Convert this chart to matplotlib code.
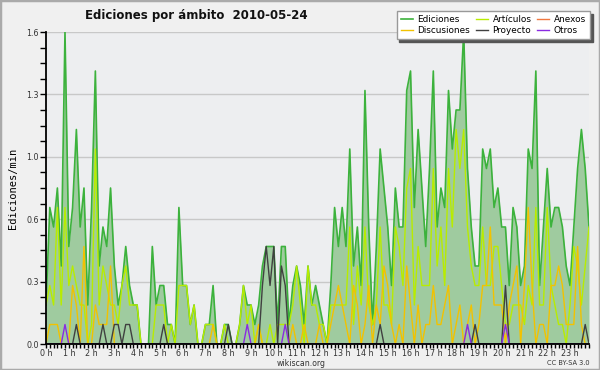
import numpy as np
import matplotlib
matplotlib.use("Agg")
import matplotlib.pyplot as plt
from matplotlib.patches import Rectangle

title = "Ediciones por ámbito  2010-05-24"
ylabel = "Ediciones/min"
series_names = ["Ediciones", "Discusiones", "Artículos", "Proyecto", "Anexos", "Otros"]
hour_labels = ["%d h" % h for h in range(24)]
ytick_labels = ["0.0", "0.3", "0.6", "1.0", "1.3", "1.6"]

# one value every 10 minutes (144 slots), edits per minute
ediciones = [
    0.2, 0.7, 0.6, 0.8, 0.4, 1.6, 0.5, 0.7, 1.1, 0.6, 0.8, 0.2,
    0.7, 1.4, 0.4, 0.6, 0.5, 0.8, 0.4, 0.2, 0.3, 0.5, 0.3, 0.2,
    0.2, 0.0, 0.0, 0.0, 0.5, 0.2, 0.3, 0.3, 0.1, 0.1, 0.0, 0.7,
    0.3, 0.3, 0.1, 0.2, 0.0, 0.0, 0.1, 0.1, 0.3, 0.0, 0.0, 0.1,
    0.1, 0.0, 0.0, 0.1, 0.3, 0.2, 0.2, 0.1, 0.2, 0.4, 0.5, 0.5,
    0.5, 0.1, 0.5, 0.5, 0.1, 0.3, 0.4, 0.3, 0.1, 0.4, 0.2, 0.3,
    0.2, 0.1, 0.0, 0.3, 0.7, 0.5, 0.7, 0.5, 1.0, 0.4, 0.6, 0.3,
    1.3, 0.6, 0.1, 0.5, 1.0, 0.8, 0.6, 0.3, 0.8, 0.6, 0.6, 1.3,
    1.4, 0.7, 1.1, 0.8, 0.5, 0.9, 1.4, 0.6, 0.8, 0.7, 1.3, 1.0,
    1.2, 1.2, 1.6, 0.9, 0.6, 0.4, 0.4, 1.0, 0.9, 1.0, 0.7, 0.8,
    0.6, 0.6, 0.3, 0.7, 0.6, 0.3, 0.4, 1.0, 0.9, 1.4, 0.3, 0.6,
    0.9, 0.6, 0.7, 0.7, 0.6, 0.4, 0.3, 0.6, 0.9, 1.1, 0.9, 0.6,
]
articulos = [
    0.2, 0.3, 0.2, 0.7, 0.2, 0.7, 0.3, 0.4, 0.3, 0.2, 0.2, 0.0,
    0.1, 1.0, 0.2, 0.4, 0.3, 0.2, 0.2, 0.1, 0.3, 0.4, 0.2, 0.2,
    0.2, 0.0, 0.0, 0.0, 0.0, 0.2, 0.2, 0.2, 0.0, 0.1, 0.0, 0.3,
    0.3, 0.3, 0.1, 0.2, 0.0, 0.0, 0.1, 0.1, 0.1, 0.0, 0.0, 0.1,
    0.0, 0.0, 0.0, 0.1, 0.3, 0.1, 0.2, 0.0, 0.1, 0.0, 0.0, 0.1,
    0.0, 0.1, 0.1, 0.1, 0.1, 0.2, 0.4, 0.2, 0.0, 0.4, 0.2, 0.2,
    0.1, 0.1, 0.0, 0.2, 0.2, 0.2, 0.2, 0.2, 0.6, 0.1, 0.4, 0.2,
    0.6, 0.2, 0.1, 0.2, 0.6, 0.2, 0.2, 0.1, 0.6, 0.5, 0.3, 0.8,
    0.9, 0.2, 0.5, 0.3, 0.3, 0.3, 0.9, 0.4, 0.6, 0.3, 0.9, 0.6,
    1.1, 0.9, 1.1, 0.6, 0.4, 0.3, 0.3, 0.6, 0.3, 0.3, 0.5, 0.5,
    0.3, 0.1, 0.1, 0.2, 0.2, 0.2, 0.1, 0.3, 0.2, 0.7, 0.2, 0.2,
    0.7, 0.3, 0.2, 0.1, 0.1, 0.0, 0.2, 0.5, 0.4, 0.2, 0.4, 0.6,
]
discusiones = [
    0.0, 0.1, 0.1, 0.1, 0.0, 0.0, 0.0, 0.3, 0.2, 0.0, 0.5, 0.0,
    0.0, 0.2, 0.1, 0.1, 0.1, 0.4, 0.0, 0.0, 0.0, 0.0, 0.0, 0.0,
    0.0, 0.0, 0.0, 0.0, 0.0, 0.0, 0.0, 0.0, 0.0, 0.0, 0.0, 0.0,
    0.0, 0.0, 0.0, 0.0, 0.0, 0.0, 0.0, 0.0, 0.1, 0.0, 0.0, 0.0,
    0.0, 0.0, 0.0, 0.0, 0.0, 0.0, 0.0, 0.0, 0.1, 0.0, 0.0, 0.0,
    0.0, 0.0, 0.0, 0.0, 0.0, 0.1, 0.0, 0.0, 0.1, 0.0, 0.0, 0.0,
    0.1, 0.0, 0.0, 0.1, 0.2, 0.3, 0.2, 0.1, 0.0, 0.3, 0.2, 0.0,
    0.1, 0.3, 0.0, 0.2, 0.1, 0.4, 0.3, 0.1, 0.0, 0.1, 0.0, 0.4,
    0.2, 0.0, 0.2, 0.0, 0.1, 0.1, 0.3, 0.1, 0.1, 0.2, 0.3, 0.0,
    0.1, 0.2, 0.0, 0.1, 0.2, 0.0, 0.1, 0.3, 0.3, 0.6, 0.2, 0.2,
    0.2, 0.0, 0.2, 0.3, 0.4, 0.0, 0.3, 0.7, 0.3, 0.0, 0.1, 0.1,
    0.0, 0.3, 0.3, 0.4, 0.3, 0.1, 0.1, 0.1, 0.5, 0.1, 0.0, 0.0,
]
anexos = [
    0.0, 0.0, 0.0, 0.0, 0.0, 0.0, 0.0, 0.0, 0.0, 0.0, 0.0, 0.0,
    0.0, 0.0, 0.0, 0.0, 0.0, 0.0, 0.0, 0.0, 0.0, 0.0, 0.0, 0.0,
    0.0, 0.0, 0.0, 0.0, 0.0, 0.0, 0.0, 0.0, 0.0, 0.0, 0.0, 0.0,
    0.0, 0.0, 0.0, 0.0, 0.0, 0.0, 0.0, 0.0, 0.0, 0.0, 0.0, 0.0,
    0.0, 0.0, 0.0, 0.0, 0.0, 0.0, 0.0, 0.0, 0.0, 0.0, 0.0, 0.0,
    0.0, 0.0, 0.0, 0.0, 0.0, 0.0, 0.0, 0.0, 0.0, 0.0, 0.0, 0.0,
    0.0, 0.0, 0.0, 0.0, 0.0, 0.0, 0.0, 0.0, 0.0, 0.0, 0.0, 0.0,
    0.0, 0.0, 0.0, 0.0, 0.0, 0.0, 0.0, 0.0, 0.0, 0.0, 0.0, 0.0,
    0.0, 0.0, 0.0, 0.0, 0.0, 0.0, 0.0, 0.0, 0.0, 0.0, 0.0, 0.0,
    0.0, 0.0, 0.0, 0.0, 0.0, 0.0, 0.0, 0.0, 0.0, 0.0, 0.0, 0.0,
    0.0, 0.0, 0.0, 0.0, 0.0, 0.0, 0.0, 0.0, 0.0, 0.0, 0.0, 0.0,
    0.0, 0.0, 0.0, 0.0, 0.0, 0.0, 0.0, 0.0, 0.0, 0.0, 0.0, 0.0,
]
proyecto = [
    0.0, 0.0, 0.0, 0.0, 0.0, 0.0, 0.0, 0.0, 0.1, 0.0, 0.0, 0.0,
    0.0, 0.0, 0.0, 0.1, 0.0, 0.0, 0.1, 0.1, 0.0, 0.1, 0.1, 0.0,
    0.0, 0.0, 0.0, 0.0, 0.0, 0.0, 0.0, 0.1, 0.0, 0.0, 0.0, 0.0,
    0.0, 0.0, 0.0, 0.0, 0.0, 0.0, 0.0, 0.0, 0.0, 0.0, 0.0, 0.0,
    0.1, 0.0, 0.0, 0.0, 0.0, 0.0, 0.0, 0.0, 0.0, 0.3, 0.5, 0.3,
    0.5, 0.0, 0.4, 0.3, 0.0, 0.0, 0.0, 0.0, 0.0, 0.0, 0.0, 0.0,
    0.0, 0.0, 0.0, 0.0, 0.0, 0.0, 0.0, 0.0, 0.0, 0.0, 0.0, 0.0,
    0.0, 0.0, 0.0, 0.0, 0.1, 0.0, 0.0, 0.0, 0.0, 0.0, 0.0, 0.0,
    0.0, 0.0, 0.0, 0.0, 0.0, 0.0, 0.0, 0.0, 0.0, 0.0, 0.0, 0.0,
    0.0, 0.0, 0.0, 0.0, 0.0, 0.1, 0.0, 0.0, 0.0, 0.0, 0.0, 0.0,
    0.0, 0.3, 0.0, 0.0, 0.0, 0.0, 0.0, 0.0, 0.0, 0.0, 0.0, 0.0,
    0.0, 0.0, 0.0, 0.0, 0.0, 0.0, 0.0, 0.0, 0.0, 0.0, 0.1, 0.0,
]
otros = [
    0.0, 0.0, 0.0, 0.0, 0.0, 0.1, 0.0, 0.0, 0.0, 0.0, 0.0, 0.0,
    0.0, 0.0, 0.0, 0.0, 0.0, 0.0, 0.0, 0.0, 0.0, 0.0, 0.0, 0.0,
    0.0, 0.0, 0.0, 0.0, 0.0, 0.0, 0.0, 0.0, 0.0, 0.0, 0.0, 0.0,
    0.0, 0.0, 0.0, 0.0, 0.0, 0.0, 0.0, 0.0, 0.0, 0.0, 0.0, 0.0,
    0.0, 0.0, 0.0, 0.0, 0.0, 0.1, 0.0, 0.0, 0.0, 0.0, 0.0, 0.0,
    0.0, 0.0, 0.0, 0.1, 0.0, 0.0, 0.0, 0.0, 0.0, 0.0, 0.0, 0.0,
    0.0, 0.0, 0.0, 0.0, 0.0, 0.0, 0.0, 0.0, 0.0, 0.0, 0.0, 0.0,
    0.0, 0.0, 0.0, 0.0, 0.0, 0.0, 0.0, 0.0, 0.0, 0.0, 0.0, 0.0,
    0.0, 0.0, 0.0, 0.0, 0.0, 0.0, 0.0, 0.0, 0.0, 0.0, 0.0, 0.0,
    0.0, 0.0, 0.0, 0.1, 0.0, 0.0, 0.0, 0.0, 0.0, 0.0, 0.0, 0.0,
    0.0, 0.1, 0.0, 0.0, 0.0, 0.0, 0.0, 0.0, 0.0, 0.0, 0.0, 0.0,
    0.0, 0.0, 0.0, 0.0, 0.0, 0.0, 0.0, 0.0, 0.0, 0.0, 0.0, 0.0,
]

plt.rcParams['font.family'] = ['DejaVu Sans']

hours = np.arange(len(ediciones)) / 6.0

fig = plt.figure(figsize=(6.0, 3.7), dpi=100, facecolor='#f0f0f0')
ax = fig.add_axes([46 / 600, 26 / 370, 543 / 600, 312 / 370])
ax.set_facecolor('#edeef0')

# filled total
ax.fill_between(hours, 0, ediciones, color='#9fcb9f', lw=0, zorder=2)
ax.plot(hours, ediciones, color='#3cb23c', lw=1.2, zorder=3, label='Ediciones')
ax.plot(hours, articulos, color='#b8ec00', lw=1.0, zorder=4, label='Artículos')
ax.plot(hours, discusiones, color='#f2c200', lw=1.0, zorder=5, label='Discusiones')
ax.plot(hours, anexos, color='#f07840', lw=1.0, zorder=3.5, label='Anexos')
ax.plot(hours, proyecto, color='#404040', lw=1.0, zorder=6, label='Proyecto')
ax.plot(hours, otros, color='#8a2be2', lw=1.0, zorder=7, label='Otros')

ax.set_xlim(hours[0], hours[-1])
ax.set_ylim(0, 1.6)

ax.set_yticks(np.linspace(0, 1.6, len(ytick_labels)))
ax.set_yticklabels(ytick_labels)
ax.set_yticks(np.linspace(0, 1.6, 21), minor=True)
ax.set_xticks(np.arange(24))
ax.set_xticklabels(hour_labels)
ax.set_xticks(np.arange(0, 24, 1 / 6.0), minor=True)

ax.tick_params(axis='both', which='both', direction='out', colors='black',
               labelcolor='#333333', labelsize=5.8, width=1)
ax.tick_params(axis='y', which='major', length=4, pad=1)
ax.tick_params(axis='y', which='minor', length=4)
ax.tick_params(axis='x', which='major', length=3, pad=0.5)
ax.tick_params(axis='x', which='minor', length=3)

ax.grid(axis='y', which='major', color='#c8c8c8', lw=1, zorder=1)
ax.set_axisbelow(True)
for s in ['top', 'right']:
    ax.spines[s].set_visible(False)
for s in ['left', 'bottom']:
    ax.spines[s].set_linewidth(1.3)
    ax.spines[s].set_zorder(8)

ax.set_ylabel(ylabel, fontsize=7.5, family='DejaVu Sans Mono', labelpad=6)

fig.text(85 / 600, 1 - 16 / 370, title, ha='left', va='center',
         fontsize=8.5, fontweight='bold', color='#111111')
fig.text(301 / 600, 1 - 363 / 370, 'wikiscan.org', ha='center', va='center',
         fontsize=5.6, color='#333333')
fig.text(590 / 600, 1 - 363 / 370, 'CC BY-SA 3.0', ha='right', va='center',
         fontsize=4.8, color='#333333')

handles, labels = ax.get_legend_handles_labels()
order = [labels.index(n) for n in series_names]
leg = fig.legend([handles[i] for i in order], [labels[i] for i in order],
                 ncol=3, loc='upper right', bbox_to_anchor=(590 / 600, 1 - 11 / 370),
                 fontsize=6.4, frameon=True, fancybox=False,
                 shadow={'color': '#555555', 'alpha': 1},
                 handlelength=1.4, handletextpad=0.5, columnspacing=0.6,
                 labelspacing=0.25, borderpad=0.45, borderaxespad=0)
leg.get_frame().set_edgecolor('#999999')
leg.get_frame().set_linewidth(1)
leg.get_frame().set_facecolor('white')
leg.set_zorder(20)

fig.patches.append(Rectangle((0, 0), 1, 1, transform=fig.transFigure, fill=False,
                             edgecolor='#aaaaaa', lw=2.5, zorder=30))

fig.savefig('out.png', dpi=100, facecolor=fig.get_facecolor())
